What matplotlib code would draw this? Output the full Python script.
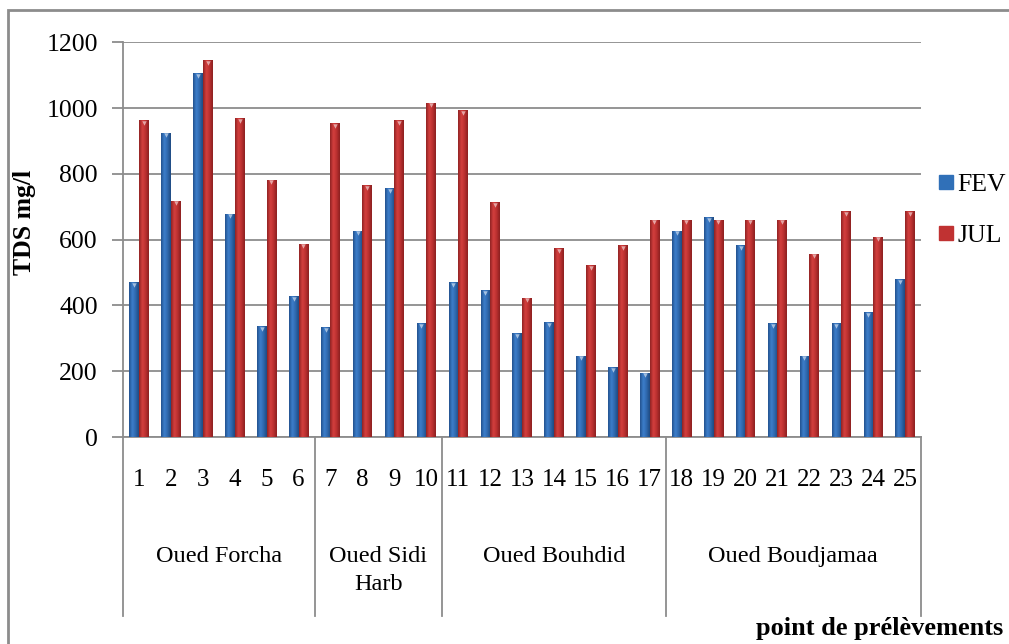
import numpy as np
import matplotlib
matplotlib.use("Agg")
import matplotlib.pyplot as plt
from matplotlib.patches import Rectangle
from matplotlib.colors import LinearSegmentedColormap
from matplotlib.lines import Line2D
import matplotlib.transforms as mtransforms

# ---- data ----
points = [str(i) for i in range(1, 26)]
fev = [471, 925, 1107, 679, 337, 428, 333, 627, 756, 346, 471, 446, 316,
       350, 247, 212, 196, 627, 669, 584, 346, 247, 346, 380, 480]
jul = [963, 718, 1146, 969, 782, 588, 955, 765, 964, 1016, 994, 713, 423,
       574, 523, 583, 661, 661, 661, 661, 661, 557, 687, 609, 687]
groups = ["Oued Forcha", "Oued Sidi\nHarb", "Oued Bouhdid", "Oued Boudjamaa"]
group_sizes = [6, 4, 7, 8]
series_names = ["FEV", "JUL"]
yticks = [0, 200, 400, 600, 800, 1000, 1200]

W, H = 1009, 644
plt.rcParams['font.family'] = ['Liberation Serif', 'DejaVu Serif']
fig = plt.figure(figsize=(W / 100, H / 100), dpi=100)

ax = fig.add_axes([123 / W, 1 - 437 / H, (921 - 123) / W, (437 - 42.3) / H])

x = np.arange(len(points))
bw = 0.3
blue_c = ['#22508c', '#3d7fcc', '#2f68ad', '#1f4a80']
red_c = ['#8e2222', '#d4403e', '#bb3030', '#8a2020']
b1 = ax.bar(x - bw / 2, fev, bw, color='#3070b8', edgecolor='none', zorder=3)
b2 = ax.bar(x + bw / 2, jul, bw, color='#c03232', edgecolor='none', zorder=3)

cm_b = LinearSegmentedColormap.from_list('b', blue_c)
cm_r = LinearSegmentedColormap.from_list('r', red_c)
grad = np.linspace(0, 1, 64).reshape(1, -1)
for bars, cm in ((b1, cm_b), (b2, cm_r)):
    for p in bars:
        x0, w, h = p.get_x(), p.get_width(), p.get_height()
        im = ax.imshow(grad, cmap=cm, aspect='auto', extent=[x0, x0 + w, 0, h],
                       zorder=3.5, interpolation='bicubic')
        im.set_clip_path(p)
        ax.plot([x0 + w * 0.5], [h - 8], marker='v', markersize=3.2,
                color='white', alpha=0.55, zorder=4, markeredgewidth=0)

ax.set_xlim(-0.5, len(points) - 0.5)
ax.set_ylim(0, 1200)
ax.set_yticks(yticks)
ax.set_yticklabels([str(v) for v in yticks], fontsize=18.5)
ax.yaxis.grid(True, color='#8c8c8c', linewidth=1.3, zorder=0)
ax.set_axisbelow(True)
ax.tick_params(axis='y', length=8, width=1.3, color='#8c8c8c', pad=10)
ax.set_xticks([])
for s in ['top', 'right']:
    ax.spines[s].set_visible(False)
for s in ['left', 'bottom']:
    ax.spines[s].set_color('#8c8c8c')
    ax.spines[s].set_linewidth(1.3)

trans = mtransforms.blended_transform_factory(ax.transData, ax.transAxes)
for i, lab in enumerate(points):
    ax.text(i, -0.109, lab, transform=trans, ha='center', va='center', fontsize=18)

bounds = np.concatenate([[0], np.cumsum(group_sizes)]) - 0.5
for b in bounds:
    ax.plot([b, b], [0, -0.453], transform=trans, color='#8c8c8c', lw=1.3,
            clip_on=False)
for gi, g in enumerate(groups):
    c = (bounds[gi] + bounds[gi + 1]) / 2
    ax.text(c, -0.275, g, transform=trans, ha='center', va='top', fontsize=17.5,
            linespacing=1.45)

fig.text(24 / W, 1 - 222 / H, "TDS mg/l", rotation=90, ha='center', va='center',
         fontsize=18.5, fontweight='bold')
fig.text(1003 / W, 1 - 628 / H, "point de prélèvements", ha='right', va='center',
         fontsize=19, fontweight='bold')

handles = [Line2D([], [], marker='s', linestyle='none', markersize=10,
                  markerfacecolor=c, markeredgecolor=c)
           for c in ('#3070b8', '#c03232')]
fig.legend(handles, series_names, loc='center left',
           bbox_to_anchor=(915 / W, 1 - 210 / H), frameon=False, fontsize=18.5,
           handlelength=0.6, handletextpad=0.15, labelspacing=1.1)

fig.patches.append(Rectangle((8 / W, -0.05), 1.2, 1.05 - 10 / H,
                             transform=fig.transFigure, fill=False,
                             edgecolor='#8c8c8c', linewidth=2))

fig.savefig("out.png", dpi=100, facecolor='white')
